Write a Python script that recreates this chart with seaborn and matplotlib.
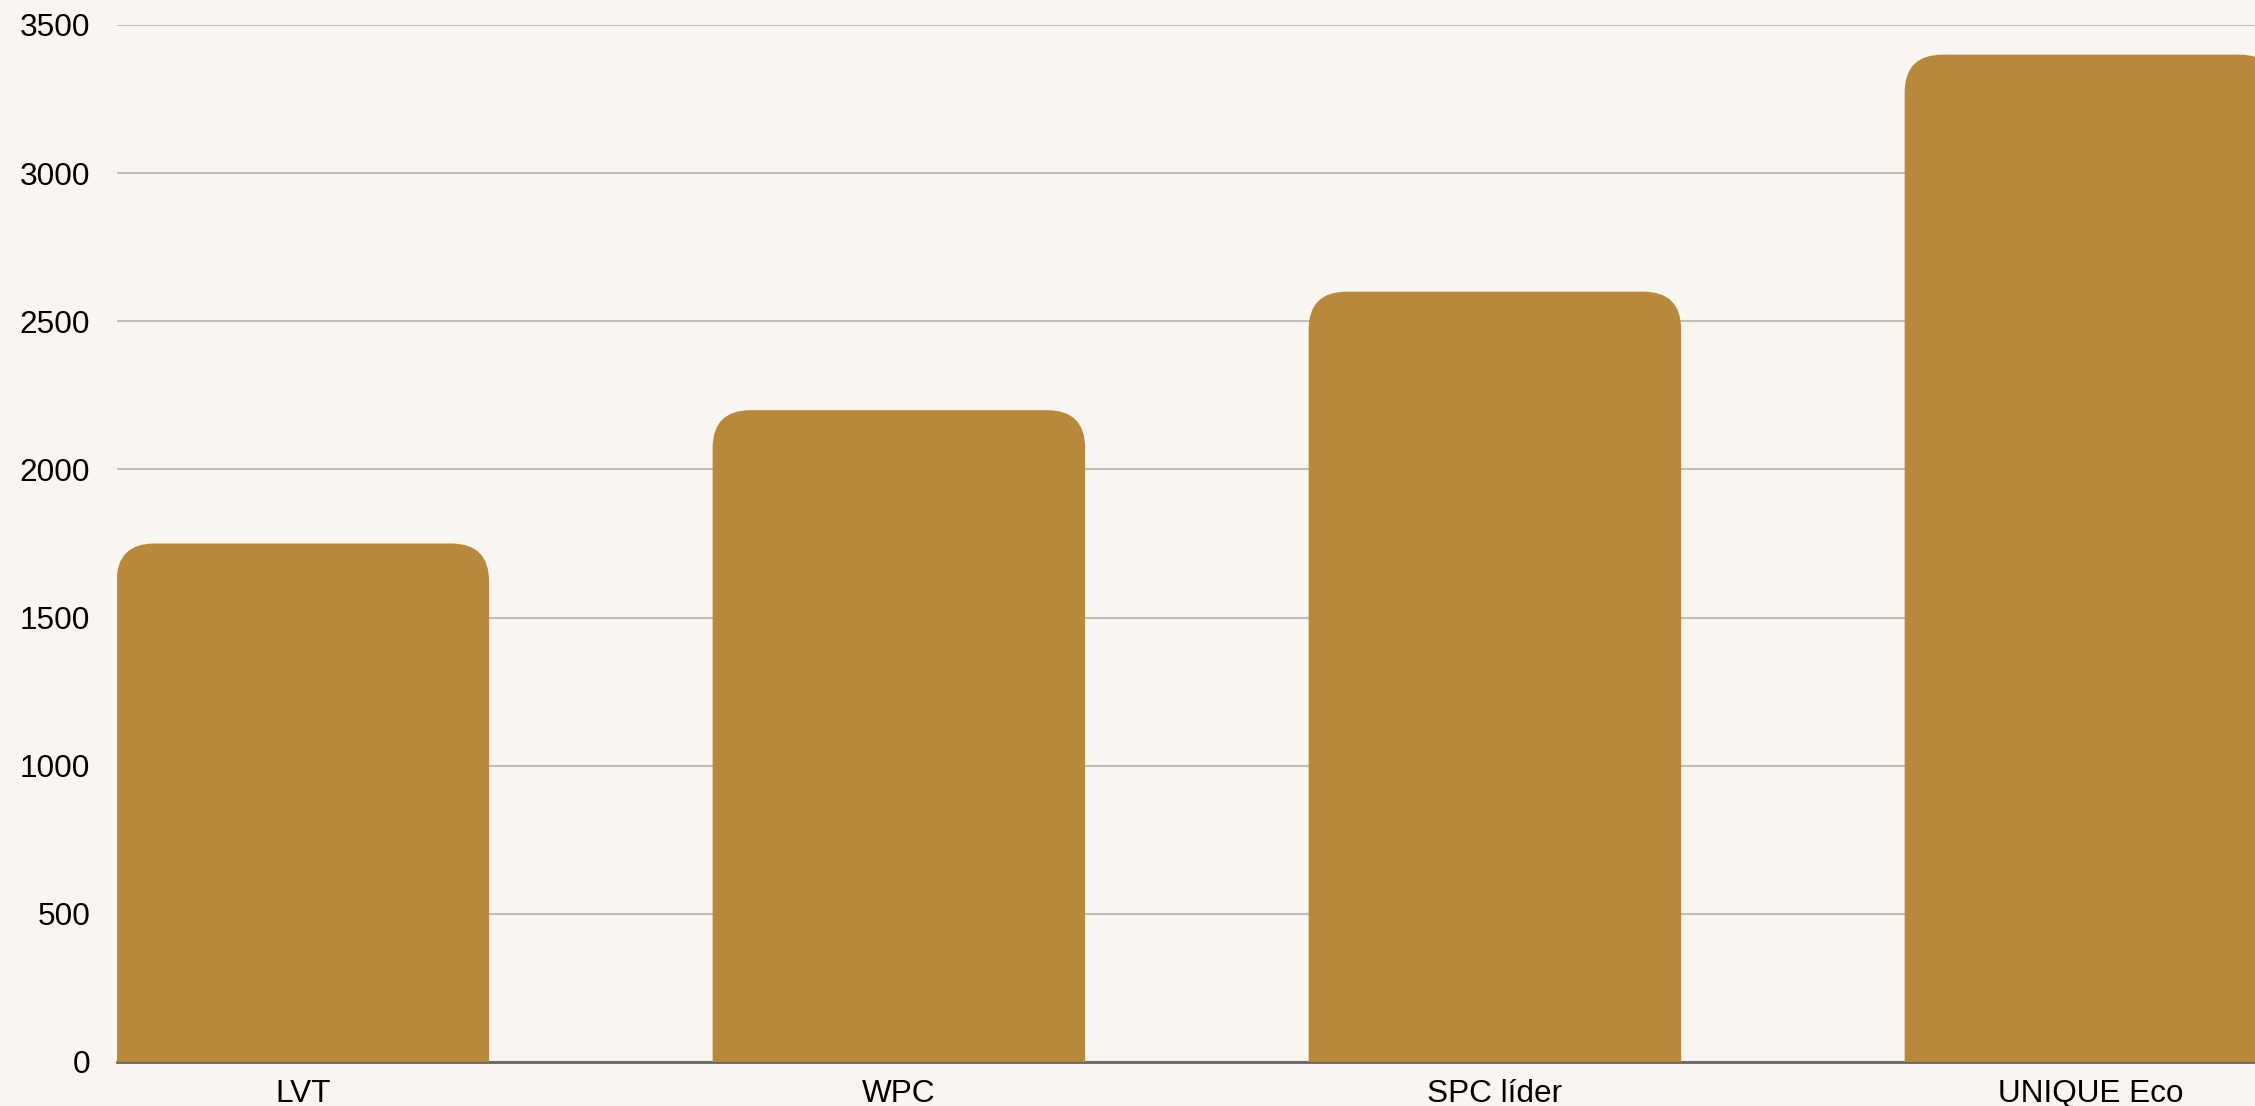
import matplotlib
matplotlib.use("Agg")
import matplotlib.pyplot as plt
from matplotlib.patches import FancyBboxPatch
import seaborn as sns
import pandas as pd

# --- data ---
categories = ["LVT", "WPC", "SPC líder", "UNIQUE Eco"]
values = [1750, 2200, 2600, 3400]
y_ticks = [0, 500, 1000, 1500, 2000, 2500, 3000, 3500]

bg = "#f9f6f1"
bar_color = "#b8893b"

sns.set_theme(style="white")
plt.rcParams["font.family"] = ["Liberation Sans", "DejaVu Sans"]

df = pd.DataFrame({"cat": categories, "val": values})

fig = plt.figure(figsize=(22.55, 11.06), dpi=100, facecolor=bg)
ax = fig.add_axes([0.0517, 0.0398, 1 - 0.0517, 0.9376])
ax.set_facecolor(bg)

bar_w = 0.625
sns.barplot(data=df, x="cat", y="val", color=bar_color, width=bar_w,
            saturation=1, ax=ax, zorder=3)

ax.set_ylim(0, 3500)
ax.set_xlim(-bar_w / 2, 3.2753)

# rounded top corners; bottom corners pushed below the axis and clipped
fig.canvas.draw()
px_x = ax.transData.transform((1, 0))[0] - ax.transData.transform((0, 0))[0]
px_y = ax.transData.transform((0, 1))[1] - ax.transData.transform((0, 0))[1]
r_px = 38
rx = r_px / px_x
ry = r_px / px_y
for p in list(ax.patches):
    x, y = p.get_x(), p.get_y()
    w, h = p.get_width(), p.get_height()
    p.set_visible(False)
    rnd = FancyBboxPatch((x, y - 3 * ry), w, h + 3 * ry,
                         boxstyle=f"round,pad=0,rounding_size={rx}",
                         mutation_aspect=px_x / px_y,
                         facecolor=bar_color, edgecolor="none", zorder=3)
    ax.add_patch(rnd)

ax.set_yticks(y_ticks)
ax.set_yticklabels([str(t) for t in y_ticks])
ax.yaxis.grid(True, color="#c2beb7", linewidth=1.5, zorder=0)
ax.set_axisbelow(True)
ax.tick_params(axis="y", length=0, pad=19, labelsize=22.7, labelcolor="#000000")
ax.tick_params(axis="x", length=0, pad=12, labelsize=22.7, labelcolor="#000000")
ax.set_xlabel("")
ax.set_ylabel("")

for s in ["top", "right", "left"]:
    ax.spines[s].set_visible(False)
ax.spines["bottom"].set_color("#666666")
ax.spines["bottom"].set_linewidth(2)
ax.spines["bottom"].set_zorder(2)

fig.savefig("out.png", dpi=100, facecolor=bg)
